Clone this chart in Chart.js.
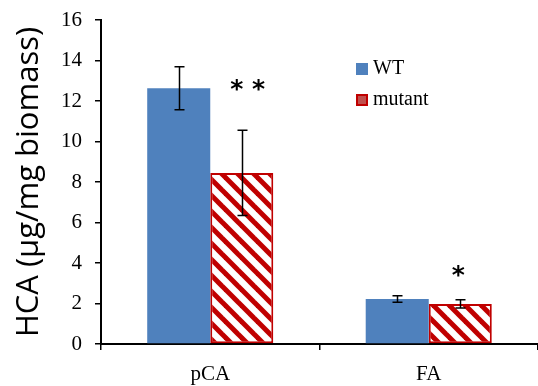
<!DOCTYPE html>
<html>
<head>
<meta charset="utf-8">
<script src="https://cdn.jsdelivr.net/npm/chart.js@4.4.0/dist/chart.umd.min.js"></script>
<style>
  html, body { margin: 0; padding: 0; background: #fff; }
</style>
</head>
<body>
<canvas id="hca-chart" width="538" height="386"></canvas>
<script>
// Datos
const categories = ['pCA', 'FA'];
const wtValues = [12.63, 2.22];
const wtErrors = [1.06, 0.16];
const mutantValues = [8.45, 1.98];
const mutantErrors = [2.1, 0.2];
const sigLabels = ['**', '*'];
const sigY = [12.5, 3.35];
const yMax = 16;
const yStep = 2;

const serif = '"Liberation Serif", "Times New Roman", serif';

// Patron de rayas rojas para el mutante
const makeHatch = () => {
  const size = 16;
  const c = document.createElement('canvas');
  c.width = size;
  c.height = size;
  const p = c.getContext('2d');
  p.fillStyle = '#fff';
  p.fillRect(0, 0, size, size);
  p.strokeStyle = '#c00000';
  p.lineWidth = 5;
  for (let k = -1; k <= 1; k++) {
    p.beginPath();
    p.moveTo(-4, -4 + k * size);
    p.lineTo(size + 4, size + 4 + k * size);
    p.stroke();
  }
  return p.createPattern(c, 'repeat');
};

const canvas = document.querySelector('#hca-chart');
const hatch = makeHatch();

// Barras de error
const errorBars = {
  id: 'errorBars',
  afterDatasetsDraw(chart) {
    const { ctx } = chart;
    const y = chart.scales.y;
    const errs = [wtErrors, mutantErrors];
    ctx.save();
    ctx.strokeStyle = '#000';
    ctx.lineWidth = 1.5;
    chart.data.datasets.forEach((ds, i) => {
      chart.getDatasetMeta(i).data.forEach((bar, j) => {
        const v = ds.data[j];
        const e = errs[i][j];
        const x = Math.round(bar.x) + 0.5;
        const top = y.getPixelForValue(v + e);
        const bottom = y.getPixelForValue(v - e);
        ctx.beginPath();
        ctx.moveTo(x, top);
        ctx.lineTo(x, bottom);
        ctx.moveTo(x - 5, top);
        ctx.lineTo(x + 5, top);
        ctx.moveTo(x - 5, bottom);
        ctx.lineTo(x + 5, bottom);
        ctx.stroke();
      });
    });

    // asteriscos de significancia
    ctx.fillStyle = '#000';
    ctx.font = 'bold 25px "DejaVu Sans"';
    ctx.textAlign = 'center';
    ctx.textBaseline = 'middle';
    chart.getDatasetMeta(1).data.forEach((bar, j) => {
      const label = sigLabels[j];
      const py = y.getPixelForValue(sigY[j]);
      if (label.length > 1) {
        ctx.fillText(label.split('').join(' '), bar.x + 6, py);
      } else {
        ctx.fillText(label, bar.x - 2, py);
      }
    });
    ctx.restore();
  }
};

// Leyenda dentro del area
const innerLegend = {
  id: 'innerLegend',
  afterDraw(chart) {
    const { ctx } = chart;
    const items = [
      { text: 'WT', fill: '#4f81bd', border: '#4f81bd' },
      { text: 'mutant', fill: '#c0504d', border: '#c00000' }
    ];
    ctx.save();
    ctx.font = '20px ' + serif;
    ctx.textBaseline = 'middle';
    ctx.textAlign = 'left';
    items.forEach((item, i) => {
      const top = 63 + i * 31;
      ctx.fillStyle = item.fill;
      ctx.fillRect(356, top, 12, 12);
      if (item.border !== item.fill) {
        ctx.strokeStyle = item.border;
        ctx.lineWidth = 2;
        ctx.strokeRect(357, top + 1, 10, 10);
      }
      ctx.fillStyle = '#000';
      ctx.fillText(item.text, 373, top + 6);
    });
    ctx.restore();
  }
};

new Chart(canvas, {
  type: 'bar',
  data: {
    labels: categories,
    datasets: [
      {
        label: 'WT',
        data: wtValues,
        backgroundColor: '#4f81bd',
        borderWidth: 0,
        categoryPercentage: 0.577,
        barPercentage: 1
      },
      {
        label: 'mutant',
        data: mutantValues,
        backgroundColor: hatch,
        borderColor: '#c00000',
        borderWidth: 2,
        borderSkipped: false,
        categoryPercentage: 0.577,
        barPercentage: 1
      }
    ]
  },
  options: {
    responsive: false,
    animation: false,
    layout: { padding: { top: 20, right: 0, left: 0, bottom: 0 } },
    plugins: {
      legend: { display: false },
      tooltip: { enabled: false }
    },
    scales: {
      x: {
        grid: {
          offset: true,
          drawOnChartArea: false,
          tickLength: 6,
          color: '#000',
          lineWidth: 1.5
        },
        border: { color: '#000', width: 2 },
        ticks: {
          color: '#000',
          font: { family: serif, size: 21 },
          padding: 12
        },
        afterFit: (scale) => { scale.height = 42; }
      },
      y: {
        min: 0,
        max: yMax,
        grid: {
          drawOnChartArea: false,
          tickLength: 6,
          color: '#000',
          lineWidth: 1.5
        },
        border: { color: '#000', width: 2 },
        ticks: {
          stepSize: yStep,
          color: '#000',
          font: { family: serif, size: 21 },
          padding: 13
        },
        title: {
          display: true,
          text: 'HCA (μg/mg biomass)',
          color: '#000',
          font: { family: '"Open Sans"', size: 31 },
          padding: { top: 11, bottom: 0 }
        },
        afterFit: (scale) => {
          scale.width = 101;
          scale.paddingTop = 0;
          scale.paddingBottom = 0;
        }
      }
    }
  },
  plugins: [errorBars, innerLegend]
});
</script>
</body>
</html>
